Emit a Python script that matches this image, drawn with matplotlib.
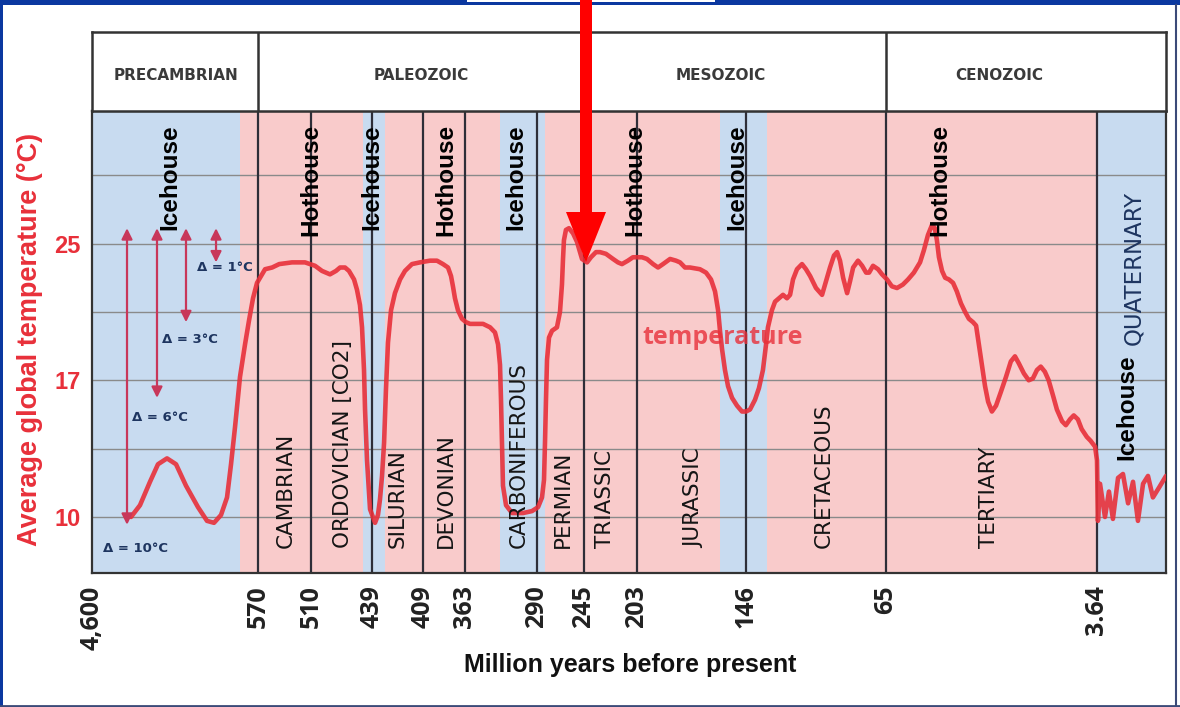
import numpy as np
import matplotlib.pyplot as plt
from matplotlib.patches import FancyArrow, Rectangle
from matplotlib.lines import Line2D

# ---- axis definitions ----
tick_ages = [4600, 570, 510, 439, 409, 363, 290, 245, 203, 146, 65, 3.64]
tick_labels = ['4,600', '570', '510', '439', '409', '363', '290', '245', '203', '146', '65', '3.64']

# the time axis of the original is drawn unevenly: width (px) of the column
# from the present back to each age
axis_ages = [0, 3.64, 65, 146, 203, 245, 290, 363, 409, 439, 510, 570, 4600]
axis_width = [0, 69, 280, 420, 529, 582, 629, 701, 743, 794, 855, 908, 1074]

# temperature axis is uneven as well (10, 17, 25 equally spaced by two gridlines)
temp_anch = [-10, 10, 17, 25, 45]
temp_pos = [-40 / 7, 0, 2, 4, 9]
temp_ticks = [10, 17, 25]
temp_grid = [13.5, 21, 29]

# ---- eras / periods ----
eras = ['PRECAMBRIAN', 'PALEOZOIC', 'MESOZOIC', 'CENOZOIC']
era_x = [2560, 410, 159, 32]
era_lines = [570, 65]

periods = ['CAMBRIAN', 'ORDOVICIAN [CO2]', 'SILURIAN', 'DEVONIAN', 'CARBONIFEROUS',
           'PERMIAN', 'TRIASSIC', 'JURASSIC', 'CRETACEOUS', 'TERTIARY']
period_x = [539, 473, 424, 384, 308, 265, 228, 173, 101, 35]
boundaries = [570, 510, 439, 409, 363, 290, 245, 203, 146, 65, 3.64]

# climate states
state_start = [4600, 1007, 449.5, 431.4, 327.5, 282.3, 159.6, 133.8, 3.64]
state_end = [1007, 449.5, 431.4, 327.5, 282.3, 159.6, 133.8, 3.64, 0]
state_kind = ['ice', 'hot', 'ice', 'hot', 'ice', 'hot', 'ice', 'hot', 'ice']
state_labels = ['Icehouse', 'Hothouse', 'Icehouse', 'Hothouse', 'Icehouse',
                'Hothouse', 'Icehouse', 'Hothouse']
state_label_x = [2706, 510, 439, 384, 311, 205, 151, 49.3]

# delta arrows in the Precambrian
delta_x = [3750, 3022, 2318, 1589]
delta_top = 25.9
delta_bottom = [9.6, 16.1, 20.4, 23.9]
delta_text = ['\u0394 = 10\u00b0C', '\u0394 = 6\u00b0C', '\u0394 = 3\u00b0C', '\u0394 = 1\u00b0C']
delta_tx = [3556, 2949, 2221, 1371]
delta_ty = [8.4, 15.1, 19.4, 23.6]

# ---- temperature curve (Ma before present, deg C) ----
age = [3653, 3435, 3192, 2998, 2779, 2560, 2318, 2026, 1808, 1638, 1468, 1322, 1225, 1128, 1007, 885, 788, 691, 594,
       566.6, 562, 554, 546, 531.5, 516.8,
       505.3, 497.2, 487.9, 480.9, 476.2, 470.4, 465.8, 459.9, 456.5, 453.0, 450.6, 448.3, 447.1, 444.8, 441.3,
       437.2, 435.5, 434.3, 433.1, 431.9, 430.8, 429.6, 427.8, 425.5, 422.5, 419.6, 415.5, 410.8,
       401.3, 393.7, 387.1, 381.6, 378.3, 376.2, 374.0, 370.7, 366.3,
       362.0, 357.9, 344.7, 337.6, 332.6, 329.5, 327.5, 326.5, 325.5, 324.5, 321.4, 315.3, 304.2, 295.1,
       289.0, 285.2, 283.3, 282.3, 281.4, 280.4, 278.5, 275.6, 270.9, 268.0, 266.1, 265.1, 264.2, 262.3, 259.4,
       255.5, 251.7, 248.8, 246.9,
       242.6, 239.5, 235.5, 232.3, 227.6, 222.0, 218.1, 214.9, 210.2, 206.2,
       203.0, 200.4, 197.8, 194.6, 192.0, 189.4, 185.7, 182.6, 180.5, 177.9, 175.3, 170.1, 166.9, 164.3, 162.2,
       160.6, 159.6, 158.5, 157.0, 155.4, 153.3, 150.7, 148.1, 146.0,
       143.7, 140.8, 138.5, 136.2, 134.4, 133.3, 131.0, 129.2, 126.9, 124.6, 122.3, 120.5, 118.8, 116.5, 113.6,
       111.3, 108.9, 105.5, 102.0, 99.7, 97.4, 95.1, 93.3, 91.6, 89.8, 87.5, 85.8, 84.0, 81.2, 78.8, 76.5, 74.8,
       72.5, 69.6, 67.3,
       64.7, 63.3, 61.8, 60.1, 58.6, 56.9, 55.1, 54.0, 52.8, 51.6, 50.8, 50.2, 49.6, 48.7, 47.8, 46.7, 45.5, 44.4,
       43.2, 42.0, 40.9, 39.7, 38.8, 38.0, 37.1, 36.2, 35.3, 34.2, 33.0, 31.6, 30.1, 28.7, 27.5, 26.4, 24.9, 23.5,
       22.3, 21.1, 20.0, 18.8, 17.7, 16.4, 15.3, 13.8, 12.7, 11.5, 10.4, 9.2, 8.1, 6.6, 5.5, 4.2,
       3.64, 3.59, 3.48, 3.22, 3.01, 2.80, 2.53, 2.27, 2.00, 1.74, 1.48, 1.21, 0.95, 0.69, 0.37, 0.0]
temp = [10.0, 10.6, 11.8, 12.7, 13.0, 12.7, 11.6, 10.5, 9.8, 9.7, 10.1, 11.0, 12.7, 14.6, 17.2, 19.1, 20.5, 21.8, 22.7,
        23.1, 23.5, 23.6, 23.8, 23.9, 23.9,
        23.7, 23.4, 23.2, 23.4, 23.6, 23.6, 23.4, 22.9, 22.3, 21.4, 20.1, 17.6, 15.5, 12.9, 10.4,
        9.7, 10.1, 10.9, 12.1, 13.8, 16.5, 19.2, 21.1, 22.1, 22.9, 23.4, 23.8, 23.9,
        24.0, 24.0, 23.8, 23.6, 23.1, 22.5, 21.8, 21.1, 20.6,
        20.4, 20.3, 20.3, 20.1, 19.8, 19.1, 17.9, 16.0, 13.8, 11.6, 10.6, 10.2, 10.2, 10.3,
        10.5, 11.0, 11.9, 13.9, 16.0, 18.2, 19.5, 19.9, 20.1, 21.0, 22.6, 24.1, 25.2, 25.8, 25.9,
        25.6, 25.1, 24.5, 24.1,
        23.9, 24.2, 24.5, 24.5, 24.4, 24.1, 23.9, 23.8, 24.0, 24.2,
        24.2, 24.2, 24.1, 23.8, 23.6, 23.8, 24.1, 24.0, 23.9, 23.6, 23.6, 23.5, 23.3, 22.9, 22.2,
        21.1, 19.9, 18.8, 17.6, 16.7, 16.1, 15.7, 15.4, 15.4,
        15.5, 16.0, 16.6, 17.6, 19.1, 20.1, 21.1, 21.6, 21.8, 22.0, 21.8, 22.0, 22.9, 23.5, 23.8,
        23.5, 23.1, 22.4, 22.0, 22.8, 23.6, 24.3, 24.5, 24.0, 23.0, 22.1, 22.8, 23.6, 24.0, 23.7, 23.3, 23.3,
        23.7, 23.5, 23.2,
        22.9, 22.5, 22.4, 22.6, 22.9, 23.3, 23.9, 24.6, 25.5, 26.1, 25.9, 25.2, 24.2, 23.4, 23.0, 22.9, 22.7, 22.2,
        21.5, 21.0, 20.6, 20.4, 20.2, 19.1, 17.9, 16.7, 15.9, 15.4, 15.7, 16.4, 17.2, 18.1, 18.4, 18.0, 17.4, 17.0,
        17.1, 17.6, 17.8, 17.5, 17.0, 16.2, 15.5, 14.9, 14.7, 15.0, 15.2, 15.0, 14.5, 14.1, 13.9, 13.6,
        12.9, 9.8, 11.7, 10.0, 11.3, 9.9, 12.0, 12.2, 10.7, 11.8, 9.8, 11.7, 12.1, 11.0, 11.5, 12.1]

BLUE = '#c8dbf0'
PINK = '#f9cbcb'
RED = '#e8303a'
LINE = '#2e2e38'
NAVY = '#1e3560'


def fwd_x(a):
    return np.interp(a, axis_ages, axis_width)


def inv_x(w):
    return np.interp(w, axis_width, axis_ages)


def fwd_y(t):
    return np.interp(t, temp_anch, temp_pos)


def inv_y(p):
    return np.interp(p, temp_pos, temp_anch)


W, H = 1180, 707
fig = plt.figure(figsize=(W / 100, H / 100), dpi=100)
ax = fig.add_axes([92 / W, 1 - 573 / H, 1074 / W, 462 / H])
axh = fig.add_axes([92 / W, 1 - 111 / H, 1074 / W, 79 / H])

for a in (ax, axh):
    a.set_xscale('function', functions=(fwd_x, inv_x))
    a.set_xlim(4600, 0)
ax.set_yscale('function', functions=(fwd_y, inv_y))
ax.set_ylim(7.13, 32.76)

# backgrounds
for a0, a1, k in zip(state_start, state_end, state_kind):
    ax.axvspan(a0, a1, color=BLUE if k == 'ice' else PINK, lw=0, zorder=0)

ax.set_axisbelow(True)
ax.set_yticks(temp_ticks)
ax.set_yticklabels([str(t) for t in temp_ticks])
ax.set_yticks(temp_grid, minor=True)
ax.grid(axis='y', which='both', color='#8a8a8a', lw=1.0)
ax.tick_params(axis='y', which='both', length=0, pad=8, labelsize=17, labelcolor=RED)
for lab in ax.get_yticklabels():
    lab.set_fontweight('bold')
    lab.set_family('Liberation Sans')

ax.set_xticks(tick_ages)
ax.set_xticklabels(tick_labels, rotation=90, fontsize=18, fontweight='bold',
                   family='Open Sans', color='#222222')
ax.xaxis.set_minor_locator(plt.NullLocator())
ax.tick_params(axis='x', which='both', length=0, pad=9)

for b in boundaries:
    ax.axvline(b, color=LINE, lw=1.6, zorder=2)
for s in ax.spines.values():
    s.set_color('#333333')
    s.set_linewidth(1.6)

# temperature curve
ax.plot(age, temp, color=RED, lw=3.3, alpha=0.9, solid_joinstyle='round',
        solid_capstyle='round', zorder=3)
ax.text(158, 19.5, 'temperature', color=RED, alpha=0.8, fontsize=18,
        family='Open Sans', fontweight='bold', ha='center', va='center', zorder=4)

# delta arrows
for x, b in zip(delta_x, delta_bottom):
    ax.annotate('', xy=(x, b), xytext=(x, delta_top),
                arrowprops=dict(arrowstyle='<|-|>', color='#c8375a', lw=1.6,
                                mutation_scale=16, shrinkA=0, shrinkB=0), zorder=4)
for t, x, y in zip(delta_text, delta_tx, delta_ty):
    ax.text(x, y, t, color=NAVY, fontsize=9.5, fontweight='bold', ha='center', va='center',
            family=['Liberation Sans Narrow', 'DejaVu Sans'], zorder=4)

# climate state labels
trans = ax.get_xaxis_transform()
for lab, x in zip(state_labels, state_label_x):
    ax.text(x, 0.972, lab, transform=trans, rotation=90, ha='center', va='top',
            fontsize=17.5, fontweight='bold', family='Liberation Sans', color='black', zorder=5)
ax.text(2.06, 0.245, 'Icehouse', transform=trans, rotation=90, ha='center', va='bottom',
        fontsize=17.5, fontweight='bold', family='Liberation Sans', color='black', zorder=5)
ax.text(1.7, 0.494, 'QUATERNARY', transform=trans, rotation=90, ha='center', va='bottom',
        fontsize=16.5, family='DejaVu Sans', color=NAVY, zorder=5)

# period labels
for lab, x in zip(periods, period_x):
    ax.text(x, 0.054, lab, transform=trans, rotation=90, ha='center', va='bottom',
            fontsize=15.5, family='DejaVu Sans', color='#151515', zorder=5)

# header with eras
axh.set_ylim(0, 1)
axh.tick_params(axis='both', which='both', length=0, labelbottom=False, labelleft=False)
axh.xaxis.set_major_locator(plt.NullLocator())
axh.xaxis.set_minor_locator(plt.NullLocator())
axh.yaxis.set_major_locator(plt.NullLocator())
for s in axh.spines.values():
    s.set_color('#333333')
    s.set_linewidth(1.8)
for b in era_lines:
    axh.axvline(b, color='#333333', lw=1.8)
for lab, x in zip(eras, era_x):
    axh.text(x, 0.45, lab, ha='center', va='center', fontsize=11, fontweight='bold',
             family=['Liberation Sans Narrow', 'DejaVu Sans'], color='#3a3a3a')

# axis titles
fig.text(30 / W, 1 - 339 / H, 'Average global temperature (\u00b0C)', rotation=90,
         ha='center', va='center', fontsize=19.5, fontweight='bold',
         family='Liberation Sans', color=RED)
fig.text(630 / W, 1 - 665 / H, 'Million years before present', ha='center', va='center',
         fontsize=18, fontweight='bold', family='Liberation Sans', color='#111111')

# slide frame
fig.add_artist(Rectangle((0, 1 - 5 / H), 1, 5 / H, transform=fig.transFigure,
                         color='#0b38a0', lw=0))
fig.add_artist(Rectangle((467 / W, 1 - 2 / H), 248 / W, 2 / H, transform=fig.transFigure,
                         color='white', lw=0))
fig.add_artist(Rectangle((0, 0), 3 / W, 1, transform=fig.transFigure, color='#0b38a0', lw=0))
fig.add_artist(Line2D([1176 / W, 1176 / W], [0, 1 - 5 / H], transform=fig.transFigure,
                      color='#3b4a78', lw=1.5))
fig.add_artist(Line2D([0, 1], [1.5 / H, 1.5 / H], transform=fig.transFigure,
                      color='#3b4a78', lw=2))

# red pointer arrow
fig.add_artist(FancyArrow(586 / W, 1.0, 0, -(262 / H), width=12 / W, head_width=40 / W,
                          head_length=50 / H, length_includes_head=True,
                          transform=fig.transFigure, color='#ff0000', lw=0, zorder=10))

fig.savefig('out.png', dpi=100)
